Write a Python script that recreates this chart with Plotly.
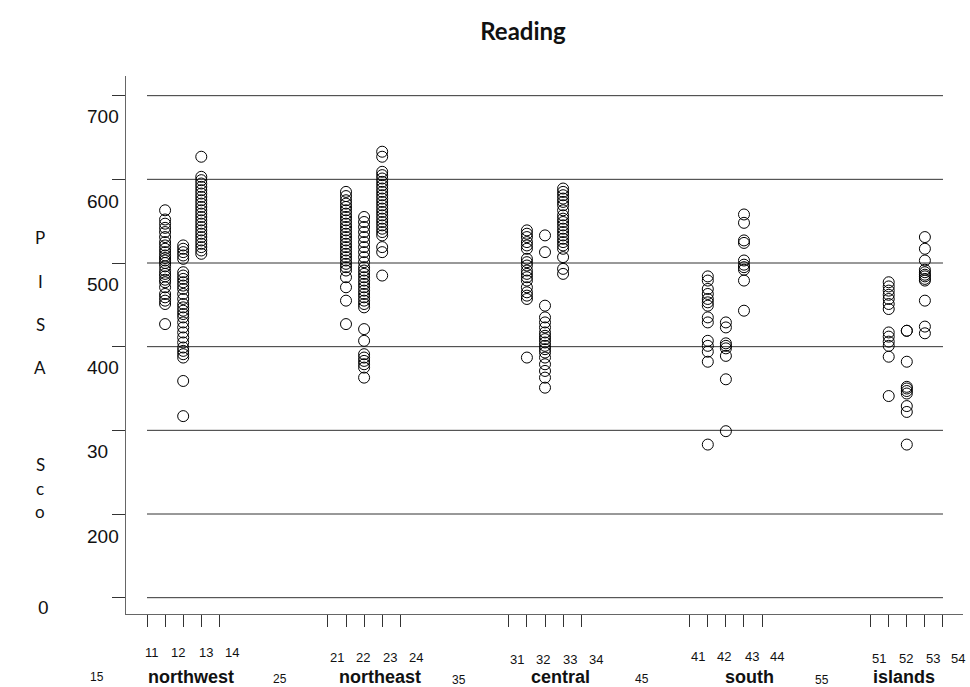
import plotly.graph_objects as go

# ---------------- data ----------------
groups = ["northwest", "northeast", "central", "south", "islands"]
sub_codes = [2, 3, 4]          # column code within each group (x = 10*group + code)
tick_codes = [1, 2, 3, 4, 5]   # tick marks within each group

northwest_2 = [563, 552, 547, 542, 537, 531, 525, 521, 517, 513, 509, 506, 503, 500, 496, 491,
               487, 484, 480, 477, 471, 463, 459, 455, 451, 427]
northwest_3 = [521, 517, 513, 509, 505, 489, 485, 481, 477, 473, 469, 463, 457, 451, 447, 443,
               439, 435, 429, 423, 417, 411, 405, 399, 395, 391, 387, 359, 317]
northwest_4 = [627, 603, 599, 595, 591, 587, 583, 579, 575, 571, 567, 563, 559, 555, 551, 547,
               543, 539, 535, 531, 527, 523, 519, 515, 511]

northeast_2 = [585, 580, 575, 571, 567, 563, 559, 555, 551, 547, 543, 539, 535, 531, 527, 523,
               519, 515, 511, 507, 503, 499, 495, 491, 483, 471, 455, 427]
northeast_3 = [555, 549, 543, 537, 531, 525, 519, 513, 507, 501, 495, 491, 487, 483, 479, 475,
               471, 467, 463, 459, 455, 451, 447, 421, 407, 391, 387, 383, 379, 375, 363]
northeast_4 = [633, 627, 609, 605, 601, 597, 593, 589, 585, 581, 577, 573, 569, 565, 561, 557,
               553, 549, 545, 541, 537, 533, 519, 513, 485]

central_2 = [539, 535, 531, 525, 521, 517, 505, 501, 497, 491, 487, 483, 479, 471, 465, 461,
             457, 387]
central_3 = [533, 513, 449, 435, 429, 423, 417, 413, 409, 405, 401, 397, 393, 387, 379, 371,
             363, 351]
central_4 = [589, 585, 581, 577, 573, 569, 563, 557, 553, 549, 545, 541, 537, 533, 529, 525,
             521, 517, 507, 493, 487]

south_2 = [484, 479, 469, 463, 457, 453, 449, 435, 429, 407, 401, 394, 382, 283]
south_3 = [429, 423, 404, 401, 398, 389, 361, 299]
south_4 = [558, 548, 527, 524, 503, 498, 495, 492, 479, 443]

islands_2 = [477, 472, 467, 462, 457, 451, 445, 417, 412, 406, 401, 388, 341]
islands_3 = [419, 419, 382, 352, 350, 347, 344, 329, 322, 283]
islands_4 = [531, 517, 503, 492, 489, 486, 484, 481, 479, 455, 424, 416]

series = {
    "northwest": [northwest_2, northwest_3, northwest_4],
    "northeast": [northeast_2, northeast_3, northeast_4],
    "central": [central_2, central_3, central_4],
    "south": [south_2, south_3, south_4],
    "islands": [islands_2, islands_3, islands_4],
}

y_ticks = [700, 600, 500, 400, 300, 200, 100]
y_tick_text = ["700", "600", "500", "400", "30", "200", "0"]
title_text = "Reading"
y_title_letters = ["P", "I", "S", "A", "S", "c", "o"]
stray_labels = ["15", "25", "35", "45", "55"]

# ---------------- layout geometry (pixels of the 970x687 page) ----------------
W, H = 970, 687
L, R, T, B = 126, 7, 76, 73
PW, PH = W - L - R, H - T - B


def px_x(p):
    return (p - L) / PW


def px_y(p):
    return (H - B - p) / PH


fig = go.Figure()

for gi, g in enumerate(groups):
    for ci, code in enumerate(sub_codes):
        vals = series[g][ci]
        fig.add_trace(go.Scatter(
            x=[10 * (gi + 1) + code] * len(vals),
            y=vals,
            mode="markers",
            marker=dict(symbol="circle-open", size=11, color="black",
                        line=dict(width=1, color="black")),
            showlegend=False,
            hoverinfo="y",
        ))

x_tickvals = [10 * (gi + 1) + c for gi in range(len(groups)) for c in tick_codes]

# horizontal reference lines
for v in y_ticks:
    fig.add_shape(type="line", xref="x", yref="y",
                  x0=x_tickvals[0], x1=x_tickvals[-1], y0=v, y1=v,
                  line=dict(color="#333333", width=1), layer="below")

annotations = []
# y tick labels (offset below the lines as in the reference)
y_label_px = [116, 201, 284, 367, 451, 536, 607]
y_label_x = [85, 85, 85, 85, 85, 85, 36]
for txt, py, pxx in zip(y_tick_text, y_label_px, y_label_x):
    annotations.append(dict(text=txt, xref="paper", yref="paper",
                            x=px_x(pxx), y=px_y(py), xanchor="left", yanchor="middle",
                            showarrow=False,
                            font=dict(family="Liberation Sans", size=19, color="#111")))

# y title letters
letter_px = [237, 281, 324, 367, 464, 488, 512]
for ch, py in zip(y_title_letters, letter_px):
    annotations.append(dict(text=ch, xref="paper", yref="paper",
                            x=px_x(40), y=px_y(py), xanchor="center", yanchor="middle",
                            showarrow=False,
                            font=dict(family="Lato", size=17, color="#111")))

# x tick number labels
num_label_px = [[152, 178, 206, 232], [337, 363, 390, 416], [517, 543, 570, 596],
                [698, 724, 752, 777], [879, 906, 933, 958]]
num_label_py = [652, 657, 659, 656, 658]
name_px = [191, 380, 560, 749, 904]
stray_px = [97, 280, 459, 642, 822]
stray_py = [677, 679, 680, 679, 680]
for gi, g in enumerate(groups):
    for k in range(4):
        annotations.append(dict(text=str(10 * (gi + 1) + tick_codes[k]),
                                xref="paper", yref="paper",
                                x=px_x(num_label_px[gi][k]), y=px_y(num_label_py[gi]),
                                xanchor="center", yanchor="middle", showarrow=False,
                                font=dict(family="Liberation Sans", size=13, color="#111")))
    annotations.append(dict(text="<b>" + g + "</b>", xref="paper", yref="paper",
                            x=px_x(name_px[gi]), y=px_y(677),
                            xanchor="center", yanchor="middle", showarrow=False,
                            font=dict(family="Liberation Sans", size=18, color="#111")))
    annotations.append(dict(text=stray_labels[gi], xref="paper", yref="paper",
                            x=px_x(stray_px[gi]), y=px_y(stray_py[gi]),
                            xanchor="center", yanchor="middle", showarrow=False,
                            font=dict(family="Liberation Sans", size=12, color="#111")))

fig.update_layout(
    width=W, height=H,
    margin=dict(l=L, r=R, t=T, b=B, pad=0),
    paper_bgcolor="white", plot_bgcolor="white",
    title=dict(text="<b>" + title_text + "</b>", x=523 / W, xref="container",
               xanchor="center", y=1 - 32 / H, yanchor="middle",
               font=dict(family="Lato", size=24, color="#111")),
    annotations=annotations,
    xaxis=dict(range=[9.839, 56.106], tickvals=x_tickvals, showticklabels=False,
               ticks="outside", ticklen=12, tickwidth=1, tickcolor="#333",
               showline=True, linecolor="#666", linewidth=1,
               showgrid=False, zeroline=False),
    yaxis=dict(range=[80.5, 723.5], tickvals=y_ticks, showticklabels=False,
               ticks="outside", ticklen=13, tickwidth=1, tickcolor="#333",
               showline=True, linecolor="#666", linewidth=1,
               showgrid=False, zeroline=False),
)

fig.write_html("out.html")
